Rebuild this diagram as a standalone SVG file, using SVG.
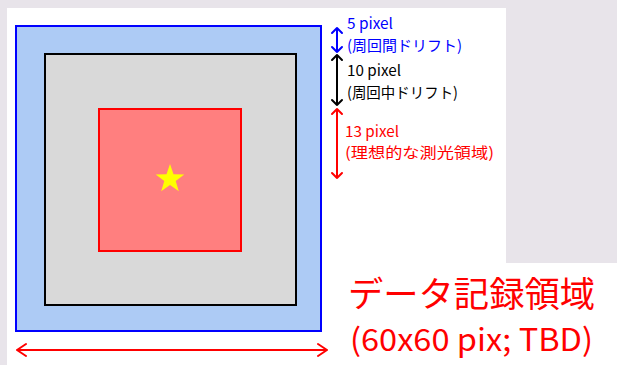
<svg xmlns="http://www.w3.org/2000/svg" width="617" height="365" viewBox="0 0 617 365">
<defs>
<style>
.lbl{font-family:"Noto Sans CJK JP","Noto Sans",sans-serif;font-size:15px}
.big{font-family:"Noto Sans CJK JP","Noto Sans",sans-serif;fill:#ff0000}
.arr{fill:none;stroke-width:2;stroke-linecap:round;stroke-linejoin:round}
</style>
</defs>
<rect x="0" y="0" width="617" height="365" fill="#e8e4ea"/>
<rect x="7" y="8" width="610" height="357" fill="#ffffff"/>
<rect x="506" y="8" width="111" height="255" fill="#e8e4ea"/>
<g id="outer-region">
<rect x="16" y="26" width="305" height="305" fill="#adcbf5" stroke="#0000ff" stroke-width="2"/>
</g>
<g id="drift-region">
<rect x="45" y="54" width="251" height="251" fill="#d9d9d9" stroke="#000000" stroke-width="2"/>
</g>
<g id="photometry-region">
<rect x="99" y="109" width="142" height="142" fill="#ff7f7f" stroke="#ff0000" stroke-width="2"/>
</g>
<g id="star">
<polygon points="170,164 173.5,174.2 184.3,174.4 175.7,180.9 178.8,191.3 170,185 161.2,191.3 164.3,180.9 155.7,174.4 166.5,174.2" fill="#ffff00"/>
</g>
<g id="connectors">
<g class="arr" stroke="#0000ff">
<path d="M337,28 V52 M332,33 L337,28 L342,33 M332,47 L337,52 L342,47"/>
</g>
<g class="arr" stroke="#000000">
<path d="M337,55 V105 M332,60 L337,55 L342,60 M332,100 L337,105 L342,100"/>
</g>
<g class="arr" stroke="#ff0000">
<path d="M337,109 V178 M332,114 L337,109 L342,114 M332,173 L337,178 L342,173"/>
</g>
<g class="arr" stroke="#ff0000">
<path d="M17,350 H327 M26,344 L17,350 L26,356 M318,344 L327,350 L318,356"/>
</g>
</g>
<g id="labels">
<text class="lbl" x="347" y="29" fill="#0000ff" textLength="46" lengthAdjust="spacingAndGlyphs">5 pixel</text>
<text class="lbl" x="347" y="51" fill="#0000ff" textLength="115" lengthAdjust="spacingAndGlyphs">(周回間ドリフト)</text>
<text class="lbl" x="347" y="76" fill="#000000" textLength="54" lengthAdjust="spacingAndGlyphs">10 pixel</text>
<text class="lbl" x="347" y="98" fill="#000000" textLength="111" lengthAdjust="spacingAndGlyphs">(周回中ドリフト)</text>
<text class="lbl" x="345" y="137" fill="#ff0000" textLength="54" lengthAdjust="spacingAndGlyphs">13 pixel</text>
<text class="lbl" x="345" y="158" fill="#ff0000" textLength="149" lengthAdjust="spacingAndGlyphs">(理想的な測光領域)</text>
<text class="big" x="348" y="307" font-size="35" textLength="247" lengthAdjust="spacingAndGlyphs">データ記録領域</text>
<text class="big" x="350" y="351" font-size="31" textLength="243" lengthAdjust="spacingAndGlyphs">(60x60 pix; TBD)</text>
</g>
</svg>
